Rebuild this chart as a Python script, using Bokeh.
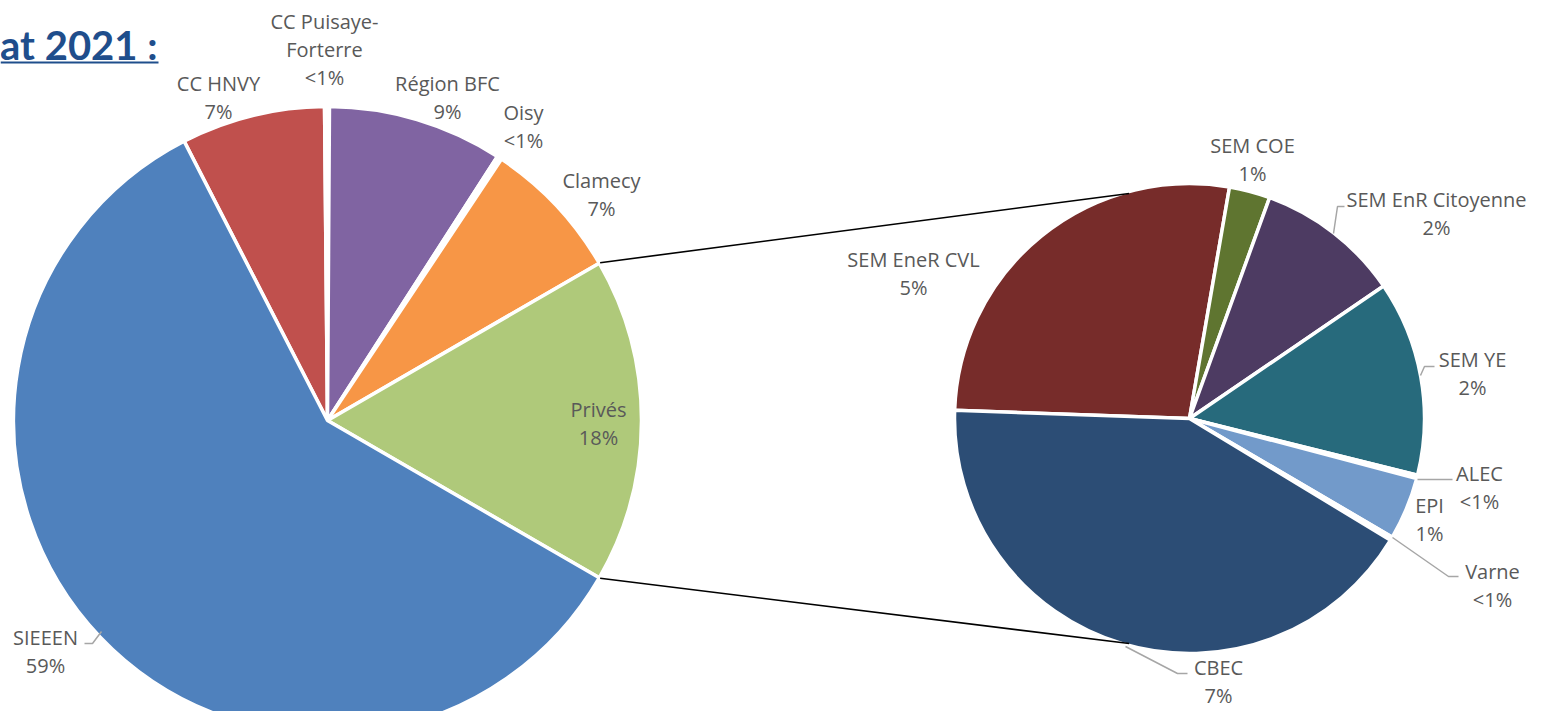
import numpy as np
from bokeh.plotting import figure
from bokeh.models import Range1d, ColumnDataSource
from bokeh.core.properties import value
from bokeh.embed import file_html
from bokeh.resources import INLINE

# ---------------- data ----------------
main_names = ["CC HNVY", "CC Puisaye-\nForterre", "Région BFC", "Oisy", "Clamecy", "Privés", "SIEEEN"]
main_values = [7.4, 0.25, 9.0, 0.25, 7.3, 16.7, 59.1]
main_pct = ["7%", "<1%", "9%", "<1%", "7%", "18%", "59%"]

sub_names = ["SEM EneR CVL", "SEM COE", "SEM EnR Citoyenne", "SEM YE", "ALEC", "EPI", "Varne", "CBEC"]
sub_values = [4.54, 0.47, 1.66, 2.24, 0.04, 0.72, 0.04, 7.0]
sub_pct = ["5%", "1%", "2%", "2%", "<1%", "1%", "<1%", "7%"]

title_text = "at 2021 :"

# ---------------- styles / layout ----------------
main_colors = ["#C0504D", "#FFFFFF", "#8064A2", "#FFFFFF", "#F79646", "#AFC97A", "#4F81BD"]
sub_colors = ["#772C2A", "#5F7530", "#4D3B62", "#276A7C", "#FFFFFF", "#729ACA", "#FFFFFF", "#2C4D75"]

W, H = 1528, 711
MAIN_C = (327, 420)
MAIN_R = 314
SUB_C = (1189, 418)
SUB_R = 235
SUB_START_CW = 272.0      # clockwise-from-top start angle of 2nd pie
CONNECT_HALF = 75.0       # connector points on 2nd pie: 270 +/- this

main_label_pos = [(218, 97), (324, 49), (447, 97), (523, 126), (601, 194), (598, 423), (45, 651)]
sub_label_pos = [(913, 273), (1252, 159), (1436, 213), (1472, 373), (1479, 487), (1429, 519), (1492, 585), (1218, 681)]

leaders = [
    [(84, 643), (92, 643), (101, 631)],          # SIEEEN
    [(1333, 233), (1337, 206), (1344, 206)],     # SEM EnR Citoyenne
    [(1420, 375), (1424, 366), (1434, 366)],     # SEM YE
    [(1417, 479), (1452, 479)],                  # ALEC
    [(1392, 537), (1448, 576), (1458, 576)],     # Varne
    [(1125, 646), (1177, 673), (1187, 673)],     # CBEC
]

FONT = "Open Sans"
TXT_COLOR = "#595959"

p = figure(width=W, height=H, output_backend="svg", toolbar_location=None,
           x_range=Range1d(0, W), y_range=Range1d(-H, 0),
           min_border=0, outline_line_color=None)
p.axis.visible = False
p.grid.visible = False
p.background_fill_color = "white"
p.border_fill_color = "white"


def pie_angles(vals, start_cw):
    v = np.asarray(vals, dtype=float)
    span = v / v.sum() * 360.0
    cw0 = start_cw + np.concatenate([[0.0], np.cumsum(span)[:-1]])
    cw1 = cw0 + span
    return cw0, cw1


# main pie: "Privés" slice centred on 3 o'clock
mv = np.asarray(main_values, dtype=float)
ip = main_names.index("Privés")
before = mv[:ip].sum() / mv.sum() * 360.0
priv_span = mv[ip] / mv.sum() * 360.0
main_start = 90.0 - before - priv_span / 2.0
m0, m1 = pie_angles(main_values, main_start)
src_main = ColumnDataSource(dict(
    start=np.deg2rad(90.0 - m1), end=np.deg2rad(90.0 - m0), color=main_colors))
p.wedge(x=MAIN_C[0], y=-MAIN_C[1], radius=MAIN_R, start_angle="start", end_angle="end",
        fill_color="color", line_color="white", line_width=3.5, source=src_main)

s0, s1 = pie_angles(sub_values, SUB_START_CW)
src_sub = ColumnDataSource(dict(
    start=np.deg2rad(90.0 - s1), end=np.deg2rad(90.0 - s0), color=sub_colors))
p.wedge(x=SUB_C[0], y=-SUB_C[1], radius=SUB_R, start_angle="start", end_angle="end",
        fill_color="color", line_color="white", line_width=3.5, source=src_sub)

# connector lines from the Privés slice corners to the second pie
a_top = np.deg2rad(90.0 - m0[ip])
a_bot = np.deg2rad(90.0 - m1[ip])
r_in = MAIN_R + 1
b_top = np.deg2rad(90.0 - (270.0 + CONNECT_HALF))
b_bot = np.deg2rad(90.0 - (270.0 - CONNECT_HALF))
r_out = SUB_R - 2
xs = [[MAIN_C[0] + r_in * np.cos(a_top), SUB_C[0] + r_out * np.cos(b_top)],
      [MAIN_C[0] + r_in * np.cos(a_bot), SUB_C[0] + r_out * np.cos(b_bot)]]
ys = [[-MAIN_C[1] + r_in * np.sin(a_top), -SUB_C[1] + r_out * np.sin(b_top)],
      [-MAIN_C[1] + r_in * np.sin(a_bot), -SUB_C[1] + r_out * np.sin(b_bot)]]
p.multi_line(xs=xs, ys=ys, line_color="black", line_width=1.6)

# leader lines
p.multi_line(xs=[[pt[0] for pt in l] for l in leaders],
             ys=[[-pt[1] for pt in l] for l in leaders],
             line_color="#A6A6A6", line_width=1.5)

# labels
lab_x = [q[0] for q in main_label_pos] + [q[0] for q in sub_label_pos]
lab_y = [-q[1] for q in main_label_pos] + [-q[1] for q in sub_label_pos]
lab_t = [f"{n}\n{v}" for n, v in zip(main_names, main_pct)] + \
        [f"{n}\n{v}" for n, v in zip(sub_names, sub_pct)]
p.text(x=lab_x, y=lab_y, text=lab_t, text_font=value(FONT), text_font_size="20px",
       text_color=TXT_COLOR, text_align="center", text_baseline="middle",
       text_line_height=1.03)

# title (cut at the left edge as in the reference)
p.text(x=[157], y=[-44], text=[title_text], text_font=value("Lato"), text_font_style="bold",
       text_font_size="40px", text_color="#1F4E8C", text_align="right", text_baseline="middle")
p.segment(x0=[0], y0=[-62], x1=[158], y1=[-62], line_color="#1F4E8C", line_width=2)

open("out.html", "w").write(file_html(p, INLINE))
